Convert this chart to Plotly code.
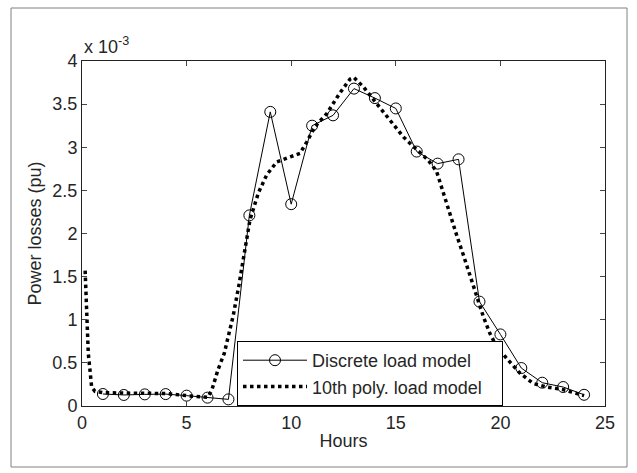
import plotly.graph_objects as go

# Discrete load model (hourly), values in units of 1e-3 pu
hours = list(range(1, 25))
discrete_losses = [0.139, 0.128, 0.135, 0.138, 0.12, 0.097, 0.077, 2.21, 3.41, 2.34,
                   3.25, 3.37, 3.68, 3.57, 3.45, 2.95, 2.81, 2.86, 1.21, 0.83,
                   0.44, 0.27, 0.22, 0.13]

# 10th order polynomial load model
poly_hours = [0.15, 0.22, 0.3, 0.38, 0.46, 0.62, 1.0, 2.0, 3.0, 4.0, 5.0, 5.5, 6.0,
              6.2, 6.5, 6.8, 7.0, 7.23, 7.5, 7.71, 8.03, 8.43, 8.83, 9.31, 9.94,
              10.42, 10.74, 11.14, 11.7, 12.33, 12.81, 13.0, 13.45, 14.09, 14.72,
              15.36, 15.92, 16.55, 16.95, 17.27, 17.59, 17.91, 18.23, 18.55, 18.87,
              19.18, 19.5, 19.82, 20.38, 20.94, 21.57, 22.21, 23.0, 23.8, 24.0]
poly_losses = [1.57, 1.1, 0.61, 0.42, 0.22, 0.17, 0.155, 0.15, 0.15, 0.145, 0.12, 0.11, 0.1,
               0.18, 0.42, 0.61, 0.8, 1.05, 1.4, 1.69, 2.16, 2.47, 2.68, 2.83, 2.89,
               2.93, 3.06, 3.24, 3.39, 3.63, 3.79, 3.81, 3.70, 3.51, 3.32,
               3.12, 2.99, 2.85, 2.72, 2.47, 2.2, 1.98, 1.75, 1.5, 1.27,
               1.04, 0.84, 0.69, 0.53, 0.38, 0.26, 0.22, 0.19, 0.13, 0.12]

x_ticks = [0, 5, 10, 15, 20, 25]
y_ticks = [0, 0.5, 1, 1.5, 2, 2.5, 3, 3.5, 4]

FONT = "Liberation Sans, Arial, sans-serif"
TXT = "#262626"

fig = go.Figure()
fig.add_trace(go.Scatter(
    x=hours, y=discrete_losses, mode="lines+markers", name="Discrete load model",
    line=dict(color="black", width=1),
    marker=dict(symbol="circle-open", size=11, color="black", line=dict(width=1)),
))
fig.add_trace(go.Scatter(
    x=poly_hours, y=poly_losses, mode="lines",
    name="10th poly. load model\u00a0\u00a0\u00a0",
    line=dict(color="black", width=3.5, dash="dot"),
))

L, R, T, B = 82, 32, 61, 67
W, H = 637, 473
pw, ph = W - L - R, H - T - B

fig.update_layout(
    width=W, height=H,
    margin=dict(l=L, r=R, t=T, b=B),
    paper_bgcolor="white", plot_bgcolor="white",
    font=dict(family=FONT, size=18, color=TXT),
    showlegend=True,
    legend=dict(
        x=(237 - L) / pw, y=0, xanchor="left", yanchor="bottom",
        bgcolor="white", bordercolor="black", borderwidth=1,
        font=dict(family=FONT, size=18, color=TXT),
        itemwidth=64, tracegroupgap=0,
    ),
    xaxis=dict(
        range=[0, 25], tickvals=x_ticks, ticks="inside", ticklen=5,
        showline=True, linecolor="#222222", linewidth=1, mirror="ticks",
        showgrid=False, zeroline=False,
        title=dict(text="Hours", standoff=2, font=dict(size=18)),
        tickfont=dict(size=18),
    ),
    yaxis=dict(
        range=[0, 4], tickvals=y_ticks, ticks="inside", ticklen=5,
        showline=True, linecolor="#222222", linewidth=1, mirror="ticks",
        showgrid=False, zeroline=False,
        title=dict(text="Power losses (pu)", standoff=6, font=dict(size=18)),
        tickfont=dict(size=18),
    ),
    annotations=[dict(
        text="x 10<sup>-3</sup>", xref="paper", yref="paper", x=0, y=1,
        xanchor="left", yanchor="bottom", showarrow=False, yshift=2,
        font=dict(family=FONT, size=18, color=TXT),
    )],
    shapes=[dict(
        type="rect", xref="paper", yref="paper",
        x0=(11 - L) / pw, x1=(627 - L) / pw,
        y0=(H - B - 467) / ph, y1=(H - B - 8) / ph,
        line=dict(color="#808080", width=1), layer="below",
    )],
)

fig.write_html("out.html",
               config={"displayModeBar": False},
               post_script="document.body.style.margin='0';document.body.style.overflow='hidden';")
